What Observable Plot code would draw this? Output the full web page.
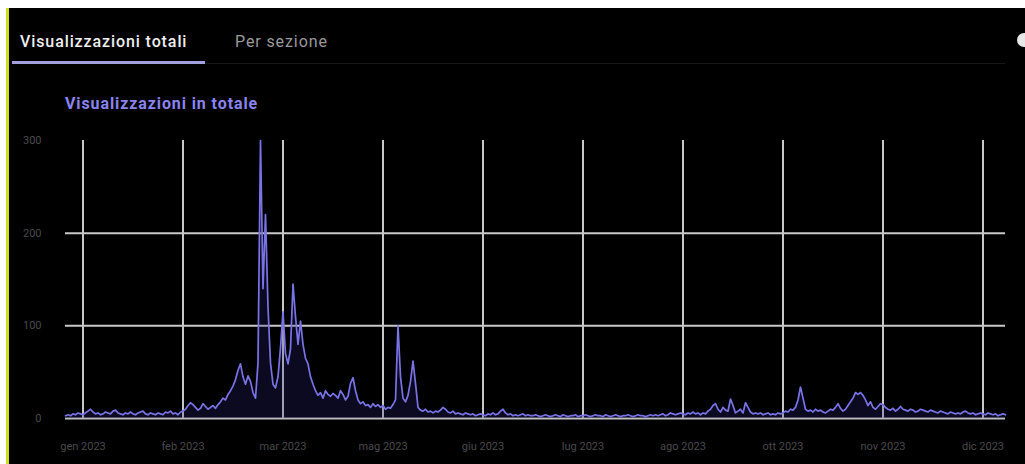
<!DOCTYPE html>
<html>
<head>
<meta charset="utf-8">
<script src="https://cdn.jsdelivr.net/npm/d3@7"></script>
<script src="https://cdn.jsdelivr.net/npm/@observablehq/plot@0.6"></script>
<style>
  html, body { margin: 0; padding: 0; background: #fff; }
  #page { position: relative; width: 1025px; height: 464px; background: #000; overflow: hidden; font-family: Roboto, "Noto Sans", sans-serif; }
  .abs { position: absolute; white-space: nowrap; }
</style>
</head>
<body>
<div id="page">
  <div class="abs" style="left:0;top:0;width:1025px;height:8px;background:#fff"></div>
  <div class="abs" style="left:0;top:0;width:6px;height:464px;background:#fff"></div>
  <div class="abs" style="left:6px;top:8px;width:3px;height:456px;background:#cddc1e"></div>
  <div class="abs" style="left:20px;top:32px;font-size:16px;letter-spacing:0.9px;font-weight:500;color:#eeeeee">Visualizzazioni totali</div>
  <div class="abs" style="left:235px;top:32px;font-size:16px;letter-spacing:0.9px;font-weight:400;color:#9a9a9a">Per sezione</div>
  <div class="abs" style="left:205px;top:63px;width:800px;height:1px;background:#181818"></div>
  <div class="abs" style="left:12px;top:61px;width:193px;height:3px;background:#a29ee0"></div>
  <div class="abs" style="left:65px;top:94px;font-size:16px;letter-spacing:0.9px;font-weight:700;color:#8a84f0">Visualizzazioni in totale</div>
  <div class="abs" style="left:1017px;top:33px;width:14px;height:14px;border-radius:7px;background:#e8e8e8"></div>
  <div id="chart" class="abs" style="left:0;top:125px"></div>
</div>
<script>
// Daily views, starting 2022-12-25
const startDate = "2022-12-25";
const views = [
  3,4,3,5,4,6,5,
  4,6,8,10,7,5,6,4,5,7,
  6,5,8,9,6,5,4,6,5,7,
  5,4,6,7,8,5,4,6,5,4,
  6,5,4,7,6,8,5,6,4,7,
  8,10,14,17,15,12,9,11,16,13,
  10,12,14,11,15,18,22,20,26,30,
  35,42,52,59,45,37,46,40,28,22,
  60,300,140,220,120,60,37,33,45,76,
  115,70,59,75,145,110,80,105,80,65,
  59,45,37,30,25,28,22,30,26,24,
  27,25,22,30,26,20,24,38,44,30,
  20,16,18,14,15,12,16,13,15,12,
  14,10,12,11,15,20,100,45,22,18,
  25,40,62,38,12,9,8,10,7,8,
  6,8,7,9,12,10,7,6,8,5,
  6,5,4,6,5,4,5,3,4,5,
  4,3,5,4,6,4,5,8,10,6,
  4,5,3,4,3,4,5,3,4,3,
  3,4,3,2,3,4,3,2,3,4,
  3,2,4,3,2,3,3,4,2,3,
  3,4,3,2,3,4,3,3,2,4,
  3,2,3,4,3,2,3,3,4,3,
  2,3,4,3,3,2,3,4,3,4,
  3,4,5,3,4,6,5,4,5,6,
  5,4,6,5,7,5,6,4,6,5,
  8,10,14,16,10,7,12,9,8,21,
  14,6,8,10,6,17,12,7,5,6,
  5,6,4,5,6,4,5,4,6,5,
  6,8,7,10,9,12,20,34,22,10,
  8,9,7,10,8,9,7,6,8,10,
  9,12,16,11,8,10,14,18,22,28,
  26,28,25,20,14,18,12,10,13,16,
  15,12,10,9,11,8,10,13,10,9,
  8,10,9,7,8,10,9,8,7,9,
  8,7,6,8,7,6,5,7,6,5,
  6,5,7,8,6,5,6,4,5,6,
  5,4,6,5,4,5,3,4,5,4
];
const tickDates = ["2023-01-01","2023-02-10","2023-03-22","2023-05-01","2023-06-10","2023-07-20","2023-08-29","2023-10-08","2023-11-17","2023-12-27"];
const tickLabels = ["gen 2023","feb 2023","mar 2023","mag 2023","giu 2023","lug 2023","ago 2023","ott 2023","nov 2023","dic 2023"];
const yTicks = [0, 100, 200, 300];
const yGrid = [100, 200];

const start = new Date(startDate + "T00:00:00Z");
const data = views.map((v, i) => ({date: d3.utcDay.offset(start, i), value: v}));
const ticks = tickDates.map(s => new Date(s + "T00:00:00Z"));
const labelOf = new Map(ticks.map((t, i) => [+t, tickLabels[i]]));

const chart = Plot.plot({
  width: 1025,
  height: 339,
  marginLeft: 65,
  marginRight: 20,
  marginTop: 15,
  marginBottom: 46,
  style: {background: "transparent", color: "#4a4a4a", fontSize: "11px", fontFamily: "Roboto, sans-serif"},
  x: {type: "utc", domain: d3.extent(data, d => d.date), label: null},
  y: {domain: [0, 300], label: null},
  marks: [
    Plot.ruleX(ticks, {y1: 0, y2: 300, stroke: "#c8c8c8", strokeWidth: 2}),
    Plot.ruleY(yGrid, {stroke: "#c8c8c8", strokeWidth: 2}),
    Plot.ruleY([0], {stroke: "#bdbdbd", strokeWidth: 2}),
    Plot.areaY(data, {x: "date", y: "value", fill: "#2b2880", fillOpacity: 0.25}),
    Plot.lineY(data, {x: "date", y: "value", stroke: "#7a73e6", strokeWidth: 1.7}),
    Plot.axisX({ticks: ticks, tickFormat: d => labelOf.get(+d), tickSize: 0, tickPadding: 24, label: null}),
    Plot.axisY({ticks: yTicks, tickSize: 0, tickPadding: 24, label: null})
  ]
});
document.getElementById("chart").appendChild(chart);
</script>
</body>
</html>
